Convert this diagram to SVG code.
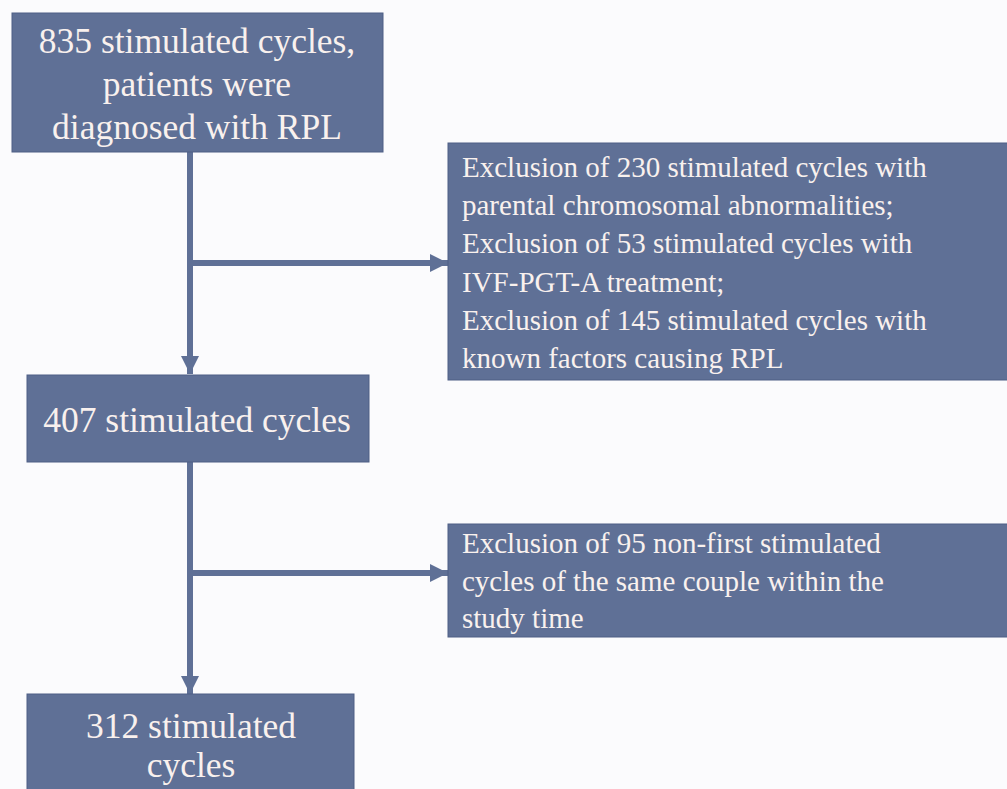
<svg xmlns="http://www.w3.org/2000/svg" width="1007" height="789" viewBox="0 0 1007 789">
<defs>
<style>
.box{fill:#5f7096;stroke:#4e5f85;stroke-width:1}
.t{fill:#f9f1ee}
.ln{stroke:#5f7096;stroke-width:6;fill:none}
</style>
<marker id="ah" viewBox="0 0 10 10" refX="10" refY="5" markerWidth="3" markerHeight="3" orient="auto" markerUnits="strokeWidth">
<path d="M0,0 L10,5 L0,10 z" fill="#5f7096"/>
</marker>
</defs>
<rect width="1007" height="789" fill="#fbfbfd"/>
<g id="connectors">
<line class="ln" x1="190" y1="152" x2="190" y2="374" marker-end="url(#ah)"/>
<line class="ln" x1="190" y1="263" x2="448" y2="263" marker-end="url(#ah)"/>
<line class="ln" x1="190" y1="462" x2="190" y2="694" marker-end="url(#ah)"/>
<line class="ln" x1="190" y1="573" x2="448" y2="573" marker-end="url(#ah)"/>
</g>
<g id="n1" font-family="Liberation Serif, Times New Roman, serif" font-size="35.5">
<rect class="box" x="12" y="13" width="371" height="139"/>
<text class="t" text-anchor="middle" x="197" y="53">835 stimulated cycles,</text>
<text class="t" text-anchor="middle" x="197" y="96">patients were</text>
<text class="t" text-anchor="middle" x="197" y="139">diagnosed with RPL</text>
</g>
<g id="n2" font-family="Liberation Serif, Times New Roman, serif" font-size="29">
<rect class="box" x="448" y="143" width="570" height="237"/>
<text class="t" x="462" y="177">Exclusion of 230 stimulated cycles with</text>
<text class="t" x="462" y="215">parental chromosomal abnormalities;</text>
<text class="t" x="462" y="253">Exclusion of 53 stimulated cycles with</text>
<text class="t" x="462" y="292">IVF-PGT-A treatment;</text>
<text class="t" x="462" y="330">Exclusion of 145 stimulated cycles with</text>
<text class="t" x="462" y="368">known factors causing RPL</text>
</g>
<g id="n3" font-family="Liberation Serif, Times New Roman, serif" font-size="35.5">
<rect class="box" x="27" y="375" width="342" height="87"/>
<text class="t" text-anchor="middle" x="197" y="432">407 stimulated cycles</text>
</g>
<g id="n4" font-family="Liberation Serif, Times New Roman, serif" font-size="29">
<rect class="box" x="448" y="524" width="570" height="113"/>
<text class="t" x="462" y="553">Exclusion of 95 non-first stimulated</text>
<text class="t" x="462" y="591">cycles of the same couple within the</text>
<text class="t" x="462" y="628">study time</text>
</g>
<g id="n5" font-family="Liberation Serif, Times New Roman, serif" font-size="35.5">
<rect class="box" x="27" y="694" width="327" height="110"/>
<text class="t" text-anchor="middle" x="191" y="738">312 stimulated</text>
<text class="t" text-anchor="middle" x="191" y="777">cycles</text>
</g>
</svg>
